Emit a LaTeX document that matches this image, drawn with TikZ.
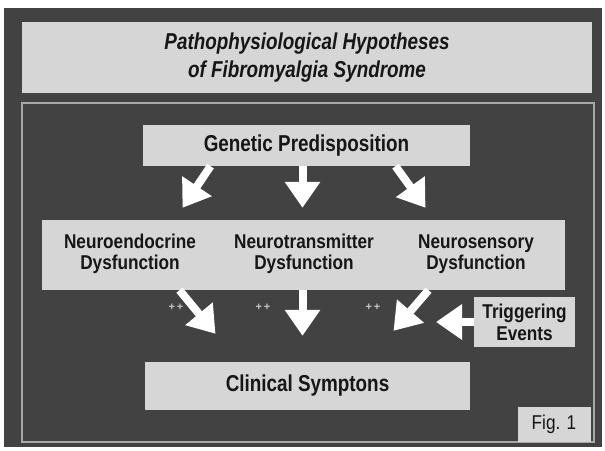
\documentclass[tikz,border=0pt]{standalone}
\usepackage{fontspec}
\setmainfont{Liberation Sans}
\newfontfamily\condA{Liberation Sans}[FakeStretch=0.82]
\newfontfamily\condB{Liberation Sans}[FakeStretch=0.86]
\usetikzlibrary{arrows.meta,calc}
\definecolor{bgdark}{HTML}{424242}
\definecolor{boxgray}{HTML}{D6D6D6}
\definecolor{txtdark}{HTML}{161616}
\definecolor{framegray}{HTML}{A8A8A8}
\tikzset{
  box/.style={fill=boxgray, draw=none, inner sep=0pt, text=txtdark},
  label/.style={inner sep=0pt, text=txtdark, font=\condB\bfseries\fontsize{20}{21.5}\selectfont, align=center},
  bigarrow/.style={draw=white, line width=8pt, -{Triangle[width=34pt,length=26pt]}},
  plusmark/.style={text=gray!45, font=\bfseries\fontsize{11}{12}\selectfont, inner sep=0pt}
}
\begin{document}
\begin{tikzpicture}[x=1pt,y=-1pt]
\useasboundingbox (0,0) rectangle (605,450);
\fill[white] (0,0) rectangle (605,450);
\fill[bgdark] (4,8) rectangle (602,447);
% title
\node[box, minimum width=570pt, minimum height=71pt, align=center,
  font=\condA\bfseries\itshape\fontsize{23}{28}\selectfont] (title) at (307,57.5)
  {Pathophysiological Hypotheses\\of Fibromyalgia Syndrome};
% inner frame
\draw[framegray, line width=1.2pt] (22,103) rectangle (594,442);
% genetic
\node[box, minimum width=327pt, minimum height=41pt, font=\condA\bfseries\fontsize{23}{26}\selectfont] (gen) at (306.5,145.5) {Genetic Predisposition};
% middle band
\node[box, minimum width=523pt, minimum height=70pt] (mid) at (303.5,255) {};
\node[label] (ne) at (130,254) {Neuroendocrine\\Dysfunction};
\node[label] (nt) at (304,254) {Neurotransmitter\\Dysfunction};
\node[label] (ns) at (476,254) {Neurosensory\\Dysfunction};
% triggering
\node[box, minimum width=101pt, minimum height=50pt, align=center, font=\condB\bfseries\fontsize{20}{22}\selectfont] (trig) at (524.5,322) {Triggering\\Events};
% clinical
\node[box, minimum width=325pt, minimum height=48pt, font=\condA\bfseries\fontsize{23}{26}\selectfont] (clin) at (307.5,386) {Clinical Symptons};
% fig
\node[box, minimum width=73pt, minimum height=35pt, font=\condB\fontsize{20}{22}\selectfont] (fig) at (554,424.5) {Fig. 1};
% arrows top
\coordinate (a1s) at ($(gen.south)+(-96,0)$);
\coordinate (a1e) at ($(mid.north)+(-121,-12)$);
\coordinate (a2s) at ($(gen.south)+(-4,0)$);
\coordinate (a2e) at ($(mid.north)+(-1,-12)$);
\coordinate (a3s) at ($(gen.south)+(89,0)$);
\coordinate (a3e) at ($(mid.north)+(122,-12)$);
\draw[bigarrow] (a1s) -- (a1e);
\draw[bigarrow] (a2s) -- (a2e);
\draw[bigarrow] (a3s) -- (a3e);
% arrows bottom
\coordinate (b1s) at ($(mid.south)+(-124,0)$);
\coordinate (b1e) at ($(clin.north)+(-92,-28)$);
\coordinate (b2s) at ($(mid.south)+(-1,0)$);
\coordinate (b2e) at ($(clin.north)+(-5,-26)$);
\coordinate (b3s) at ($(mid.south)+(125,0)$);
\coordinate (b3e) at ($(clin.north)+(86,-31)$);
\draw[bigarrow] (b1s) -- (b1e);
\draw[bigarrow] (b2s) -- (b2e);
\draw[bigarrow] (b3s) -- (b3e);
\coordinate (te) at (436,322);
\draw[bigarrow] (trig.west |- 0,322) -- (te);
% plus marks
\node[plusmark] (p1) at (176,307) {+\,+};
\node[plusmark] (p2) at (263,307) {+\,+};
\node[plusmark] (p3) at (373,307) {+\,+};
\end{tikzpicture}
\end{document}
